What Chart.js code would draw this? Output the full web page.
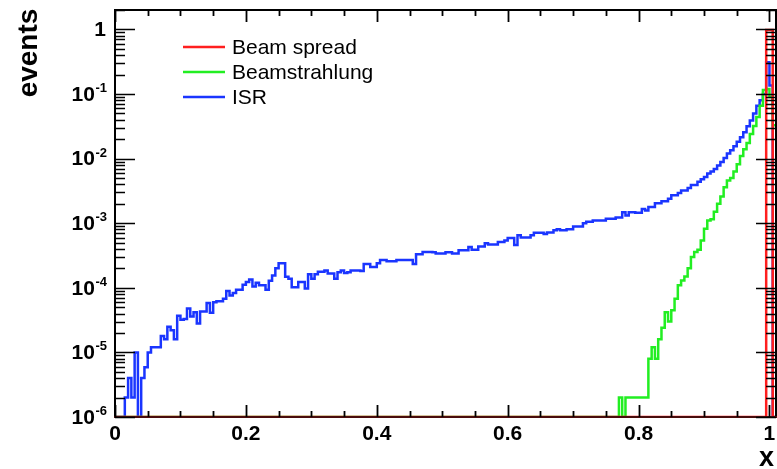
<!DOCTYPE html>
<html><head><meta charset="utf-8">
<script src="https://cdn.jsdelivr.net/npm/chart.js@4/dist/chart.umd.min.js"></script>
<style>html,body{margin:0;padding:0;background:#fff;overflow:hidden}canvas{display:block}</style>
</head><body>
<canvas id="c" width="777" height="469"></canvas>
<script>
// ---------- data ----------
const seriesNames = ['Beam spread', 'Beamstrahlung', 'ISR'];
const seriesColors = ['#ff1f1f', '#22ee22', '#1a35ff'];
const xRange = [0, 1.01];
const binWidth = 0.005;
const nBins = 202;
const xTickValues = [0, 0.2, 0.4, 0.6, 0.8, 1];
const xTickLabels = ['0', '0.2', '0.4', '0.6', '0.8', '1'];
const yTickExponents = [0, -1, -2, -3, -4, -5, -6];
const yRange = [1e-6, 2];
const xTitle = 'x';
const yTitle = 'events';

// Beam spread (bins from index 199)
const beamSpreadFirstBin = 199;
const beamSpread = [0.98, 0.98];

// Beamstrahlung (bins from index 150)
const beamstrahlungFirstBin = 150;
const beamstrahlung = [
  0,0,0,0,2e-6,0,2e-6,2e-6,2e-6,2e-6,
  2e-6,2e-6,2e-6,8e-6,1.2e-5,8e-6,1.6e-5,2.4e-5,4.2e-5,3.0e-5,
  4.5e-5,6.8e-5,1.1e-4,1.3e-4,1.5e-4,2.0e-4,3.0e-4,3.6e-4,3.9e-4,5.4e-4,
  8.2e-4,1.1e-3,1.15e-3,1.5e-3,2.0e-3,2.6e-3,3.6e-3,4.6e-3,5.0e-3,6.3e-3,
  8.2e-3,1.1e-2,1.4e-2,1.74e-2,2.4e-2,3.2e-2,4.4e-2,6.6e-2,0.115,0.12,
  0.09,0.033
];

// ISR (bins from index 0)
const isrFirstBin = 0;
const isr = [
  0,0,0,2.0e-6,4.0e-6,2.0e-6,1.0e-5,0,4.0e-6,5.9e-6,
  1.0e-5,1.2e-5,1.2e-5,1.2e-5,1.8e-5,1.6e-5,2.5e-5,2.2e-5,1.6e-5,3.7e-5,
  3.2e-5,3.3e-5,4.8e-5,3.6e-5,4.2e-5,2.8e-5,4.3e-5,4.3e-5,5.8e-5,4.1e-5,
  6.0e-5,6.2e-5,6.2e-5,6.8e-5,8.9e-5,7.6e-5,8.3e-5,9.3e-5,9.3e-5,1.12e-4,
  1.23e-4,1.35e-4,1.05e-4,1.2e-4,1.1e-4,1.1e-4,9.3e-5,1.29e-4,1.55e-4,2.0e-4,
  2.4e-4,2.4e-4,1.48e-4,1.38e-4,1.02e-4,1.02e-4,1.23e-4,1.23e-4,9.8e-5,1.62e-4,
  1.38e-4,1.62e-4,1.78e-4,1.78e-4,1.86e-4,1.66e-4,1.66e-4,1.38e-4,1.74e-4,1.86e-4,
  1.7e-4,1.74e-4,1.86e-4,1.86e-4,1.86e-4,1.82e-4,2.34e-4,2.34e-4,2.1e-4,2.1e-4,
  2.4e-4,2.7e-4,2.7e-4,2.57e-4,2.57e-4,2.57e-4,2.7e-4,2.7e-4,2.7e-4,2.7e-4,
  2.7e-4,2.34e-4,3.3e-4,3.3e-4,3.6e-4,3.6e-4,3.6e-4,3.55e-4,3.4e-4,3.4e-4,
  3.4e-4,3.55e-4,3.55e-4,3.4e-4,3.4e-4,3.8e-4,3.8e-4,3.8e-4,4.27e-4,3.9e-4,
  3.9e-4,4.37e-4,4.37e-4,4.9e-4,4.7e-4,4.7e-4,4.7e-4,5.1e-4,5.1e-4,5.4e-4,
  5.9e-4,5.9e-4,4.6e-4,6.5e-4,6.0e-4,6.0e-4,6.0e-4,6.5e-4,7.1e-4,7.1e-4,
  7.1e-4,6.8e-4,7.2e-4,7.2e-4,7.8e-4,8.1e-4,7.8e-4,7.8e-4,8.1e-4,8.1e-4,
  8.9e-4,8.9e-4,8.9e-4,1.0e-3,1.05e-3,1.05e-3,1.1e-3,1.1e-3,1.1e-3,1.1e-3,
  1.17e-3,1.17e-3,1.17e-3,1.23e-3,1.23e-3,1.48e-3,1.32e-3,1.48e-3,1.48e-3,1.45e-3,
  1.45e-3,1.66e-3,1.58e-3,1.78e-3,1.78e-3,2.04e-3,2.04e-3,2.19e-3,2.19e-3,2.4e-3,
  2.7e-3,2.7e-3,2.95e-3,3.2e-3,3.2e-3,3.5e-3,3.9e-3,3.9e-3,4.4e-3,4.8e-3,
  5.2e-3,5.9e-3,6.3e-3,6.9e-3,7.8e-3,8.9e-3,1.02e-2,1.2e-2,1.35e-2,1.55e-2,
  1.82e-2,2.14e-2,2.57e-2,3.16e-2,3.9e-2,5.0e-2,6.6e-2,8.0e-2,0.1,0.31,
  0.135,0
];

// ---------- histogram -> stepped points ----------
function histPoints(first, vals) {
  const pts = [];
  for (let i = 0; i < nBins; i++) {
    const k = i - first;
    let v = (k >= 0 && k < vals.length) ? vals[k] : 0;
    if (!(v > 0)) v = yRange[0];          // empty bins sit on the frame bottom
    pts.push({ x: i * binWidth, y: v });
  }
  pts.push({ x: nBins * binWidth, y: pts[pts.length - 1].y });
  return pts;
}

const FONT = '"Liberation Sans", Arial, Helvetica, sans-serif';

const decorPlugin = {
  id: 'decor',
  afterDraw(chart) {
    const { ctx, chartArea: a, scales } = chart;
    const xs = scales.x, ys = scales.y;
    ctx.save();
    // frame
    ctx.strokeStyle = '#000';
    ctx.lineWidth = 2;
    ctx.beginPath();
    ctx.moveTo(a.left, a.bottom); ctx.lineTo(a.left, a.top);
    ctx.lineTo(a.right, a.top); ctx.lineTo(a.right, a.bottom);
    ctx.stroke();
    ctx.strokeStyle = '#4a0c0c';
    ctx.beginPath(); ctx.moveTo(a.left - 1, a.bottom); ctx.lineTo(a.right + 1, a.bottom); ctx.stroke();

    // x ticks (bottom & top)
    ctx.strokeStyle = '#000';
    ctx.lineWidth = 1.8;
    ctx.beginPath();
    for (let k = 0; k <= 20; k++) {
      const v = k * 0.05;
      const px = Math.round(xs.getPixelForValue(v)) + 0.5;
      const len = (k % 4 === 0) ? 12 : 6;
      ctx.moveTo(px, a.bottom); ctx.lineTo(px, a.bottom - len);
      ctx.moveTo(px, a.top); ctx.lineTo(px, a.top + len);
    }
    ctx.stroke();

    // y ticks (left & right)
    ctx.lineWidth = 1.6;
    ctx.beginPath();
    for (let e = -6; e <= 0; e++) {
      for (let m = 1; m <= 9; m++) {
        const v = m * Math.pow(10, e);
        if (v < yRange[0] || v > yRange[1]) continue;
        const py = Math.round(ys.getPixelForValue(v)) + 0.5;
        const len = (m === 1) ? 20 : 10;
        ctx.moveTo(a.left, py); ctx.lineTo(a.left + len, py);
        ctx.moveTo(a.right, py); ctx.lineTo(a.right - len, py);
      }
    }
    ctx.stroke();

    // y tick labels with superscripts
    ctx.fillStyle = '#000';
    const R = 107;
    yTickExponents.forEach(e => {
      const py = ys.getPixelForValue(Math.pow(10, e));
      if (e === 0) {
        ctx.font = 'bold 21px ' + FONT;
        ctx.textAlign = 'right'; ctx.textBaseline = 'middle';
        ctx.fillText('1', R - 1, py + 1);
      } else {
        const sup = '-' + Math.abs(e);
        ctx.font = 'bold 13px ' + FONT;
        const ws = ctx.measureText(sup).width;
        ctx.textAlign = 'left'; ctx.textBaseline = 'alphabetic';
        ctx.fillText(sup, R - ws, py - 2);
        ctx.font = 'bold 21px ' + FONT;
        ctx.textAlign = 'right'; ctx.textBaseline = 'middle';
        ctx.fillText('10', R - ws - 0.5, py + 1);
      }
    });

    // x tick labels
    ctx.font = 'bold 21px ' + FONT;
    ctx.textAlign = 'center'; ctx.textBaseline = 'middle';
    xTickValues.forEach((v, i) => {
      ctx.fillText(xTickLabels[i], xs.getPixelForValue(v), a.bottom + 17);
    });

    // axis titles
    ctx.font = 'bold 27px ' + FONT;
    ctx.textAlign = 'right'; ctx.textBaseline = 'alphabetic';
    ctx.fillText(xTitle, 774, 466);
    ctx.save();
    ctx.translate(37, 53);
    ctx.rotate(-Math.PI / 2);
    ctx.font = 'bold 28px ' + FONT;
    ctx.textAlign = 'center'; ctx.textBaseline = 'alphabetic';
    ctx.fillText(yTitle, 0, 0);
    ctx.restore();

    // legend
    ctx.font = '21px ' + FONT;
    ctx.textAlign = 'left'; ctx.textBaseline = 'middle';
    chart.data.datasets.forEach((ds, i) => {
      const ly = 47 + i * 25;
      ctx.strokeStyle = ds.borderColor;
      ctx.lineWidth = 2.5;
      ctx.beginPath(); ctx.moveTo(183, ly); ctx.lineTo(225, ly); ctx.stroke();
      ctx.fillStyle = '#000';
      ctx.fillText(ds.label, 232, ly + 1);
    });
    ctx.restore();
  }
};

new Chart(document.getElementById('c'), {
  type: 'line',
  data: {
    datasets: [
      { label: seriesNames[0], data: histPoints(beamSpreadFirstBin, beamSpread), borderColor: seriesColors[0] },
      { label: seriesNames[1], data: histPoints(beamstrahlungFirstBin, beamstrahlung), borderColor: seriesColors[1] },
      { label: seriesNames[2], data: histPoints(isrFirstBin, isr), borderColor: seriesColors[2] }
    ]
  },
  options: {
    responsive: false,
    animation: false,
    devicePixelRatio: 1,
    layout: { padding: { left: 115, right: 1, top: 10, bottom: 52 } },
    elements: {
      line: { stepped: true, borderWidth: 2.5, tension: 0, fill: false, borderJoinStyle: 'miter', borderCapStyle: 'butt' },
      point: { radius: 0, hoverRadius: 0 }
    },
    scales: {
      x: { type: 'linear', min: xRange[0], max: xRange[1], display: false },
      y: { type: 'logarithmic', min: yRange[0], max: yRange[1], display: false }
    },
    plugins: { legend: { display: false }, tooltip: { enabled: false } }
  },
  plugins: [decorPlugin]
});
</script>
</body></html>
